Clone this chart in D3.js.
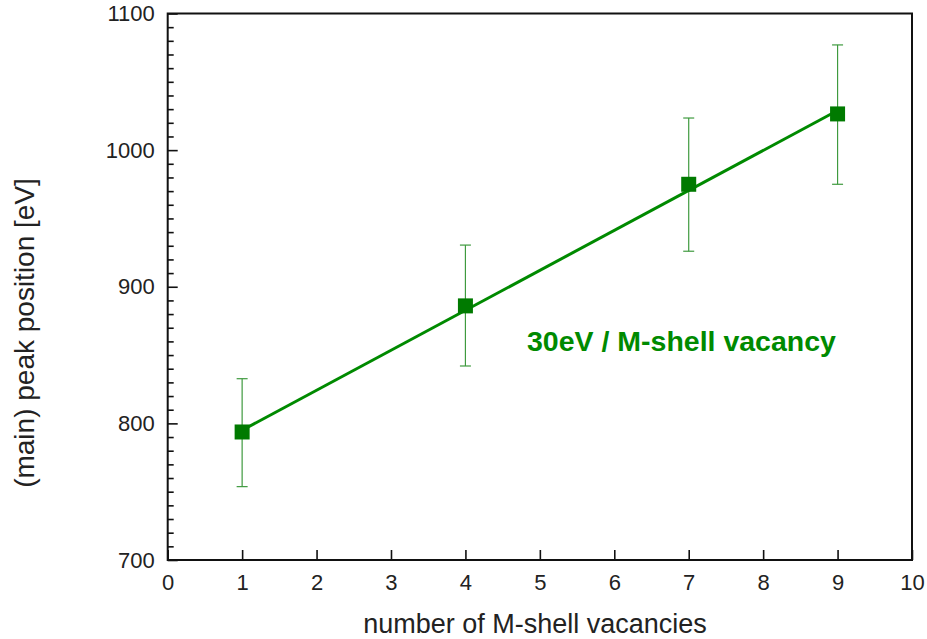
<!DOCTYPE html>
<html>
<head>
<meta charset="utf-8">
<script src="https://cdn.jsdelivr.net/npm/d3@7"></script>
<style>
  body { margin: 0; background: #fff; }
  text { font-family: "Liberation Sans", Arial, sans-serif; }
</style>
</head>
<body>
<svg id="chart"></svg>
<script>
// data
var vacancies = [1, 4, 7, 9];
var peakPos   = [793.7, 886, 975, 1026.5];
var errUp     = [39, 44.5, 48.5, 50.5];
var errDown   = [40, 44, 49, 51.5];
// linear fit drawn as a straight line
var fitX = [1, 9];
var fitY = [795, 1029];
var xTicks = [0, 1, 2, 3, 4, 5, 6, 7, 8, 9, 10];
var yTicks = [700, 800, 900, 1000, 1100];

var width = 927, height = 639;
var margin = { top: 13.5, right: 15, bottom: 79, left: 167.7 };

var svg = d3.select('#chart')
  .attr('width', width)
  .attr('height', height);

var xScale = d3.scaleLinear().domain([0, 10]).range([margin.left, width - margin.right]);
var yScale = d3.scaleLinear().domain([700, 1100]).range([height - margin.bottom, margin.top]);

var green = '#008a00';

// minor y ticks every 10 eV
var yMinor = d3.range(700, 1101, 10).filter(v => v % 100 != 0);

var yAxisMinor = d3.axisLeft(yScale).tickValues(yMinor).tickSize(-6).tickFormat('');
svg.append('g')
  .attr('transform', 'translate(' + margin.left + ',0)')
  .call(yAxisMinor)
  .call(g => g.select('.domain').remove())
  .selectAll('line').attr('stroke', '#111').attr('stroke-width', 1.6);

var yAxis = d3.axisLeft(yScale).tickValues(yTicks).tickSize(-10).tickPadding(13).tickFormat(d3.format('d'));
svg.append('g')
  .attr('transform', 'translate(' + margin.left + ',0)')
  .call(yAxis)
  .call(g => g.select('.domain').remove())
  .call(g => g.selectAll('line').attr('stroke', '#111').attr('stroke-width', 1.6))
  .selectAll('text')
  .attr('font-family', '"Liberation Sans", Arial, sans-serif')
  .attr('font-size', 22)
  .attr('fill', '#222');

var xAxis = d3.axisBottom(xScale).tickValues(xTicks).tickSize(-10).tickPadding(14).tickFormat(d3.format('d'));
svg.append('g')
  .attr('transform', 'translate(0,' + (height - margin.bottom) + ')')
  .call(xAxis)
  .call(g => g.select('.domain').remove())
  .call(g => g.selectAll('line').attr('stroke', '#111').attr('stroke-width', 1.6))
  .selectAll('text')
  .attr('font-family', '"Liberation Sans", Arial, sans-serif')
  .attr('font-size', 22)
  .attr('fill', '#222');

// frame
svg.append('rect')
  .attr('x', xScale(0))
  .attr('y', yScale(1100))
  .attr('width', xScale(10) - xScale(0))
  .attr('height', yScale(700) - yScale(1100))
  .attr('fill', 'none')
  .attr('stroke', '#111')
  .attr('stroke-width', 2);

// error bars
var errG = svg.append('g').attr('stroke', '#3f9a3f').attr('stroke-width', 1.2);
vacancies.forEach((v, i) => {
  var x = xScale(v);
  var y0 = yScale(peakPos[i] - errDown[i]);
  var y1 = yScale(peakPos[i] + errUp[i]);
  errG.append('line').attr('x1', x).attr('x2', x).attr('y1', y0).attr('y2', y1);
  errG.append('line').attr('x1', x - 5.5).attr('x2', x + 5.5).attr('y1', y0).attr('y2', y0);
  errG.append('line').attr('x1', x - 5.5).attr('x2', x + 5.5).attr('y1', y1).attr('y2', y1);
});

// fit line
var line = d3.line().x(d => xScale(d[0])).y(d => yScale(d[1]));
svg.append('path')
  .datum(fitX.map((x, i) => [x, fitY[i]]))
  .attr('d', line)
  .attr('fill', 'none')
  .attr('stroke', green)
  .attr('stroke-width', 3);

// markers
var ms = 15;
svg.selectAll('rect.marker')
  .data(vacancies)
  .enter()
  .append('rect')
  .attr('class', 'marker')
  .attr('x', d => xScale(d) - ms / 2)
  .attr('y', (d, i) => yScale(peakPos[i]) - ms / 2)
  .attr('width', ms)
  .attr('height', ms)
  .attr('fill', '#007a00');

// annotation
svg.append('text')
  .attr('x', 527)
  .attr('y', 351)
  .attr('font-size', 28.5)
  .attr('font-weight', 'bold')
  .attr('fill', green)
  .text('30eV / M-shell vacancy');

// axis titles
svg.append('text')
  .attr('x', 535)
  .attr('y', 633)
  .attr('text-anchor', 'middle')
  .attr('font-size', 27)
  .attr('fill', '#222')
  .text('number of M-shell vacancies');

svg.append('text')
  .attr('transform', 'rotate(-90)')
  .attr('x', -333)
  .attr('y', 34)
  .attr('text-anchor', 'middle')
  .attr('font-size', 28)
  .attr('fill', '#222')
  .text('(main) peak position [eV]');
</script>
</body>
</html>
